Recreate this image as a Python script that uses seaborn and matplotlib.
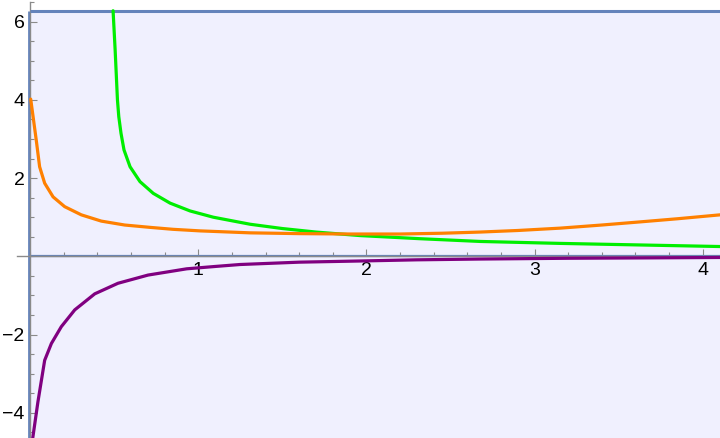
import numpy as np
import pandas as pd
import matplotlib
matplotlib.use("Agg")
import matplotlib.pyplot as plt
import seaborn as sns
from matplotlib.ticker import MultipleLocator, FixedLocator

sns.set_style("white")
plt.rcParams['font.family'] = ['Liberation Sans', 'DejaVu Sans']

# ---- data ----
green_x = [0.493, 0.505, 0.519, 0.527, 0.540, 0.558, 0.594, 0.653, 0.732, 0.832,
           0.951, 1.089, 1.308, 1.500, 1.700, 1.962, 2.319, 2.676, 3.152, 3.628, 4.103]
green_y = [6.28, 5.30, 4.00, 3.57, 3.15, 2.72, 2.29, 1.91, 1.61, 1.36,
           1.16, 1.00, 0.82, 0.71, 0.62, 0.53, 0.45, 0.38, 0.33, 0.29, 0.25]

orange_x = [0.003, 0.036, 0.056, 0.086, 0.136, 0.205, 0.304, 0.423, 0.562, 0.713,
            0.850, 1.011, 1.308, 1.600, 1.900, 2.200, 2.450, 2.676, 2.900, 3.152,
            3.400, 3.628, 3.850, 4.103]
orange_y = [4.02, 2.97, 2.29, 1.87, 1.52, 1.27, 1.06, 0.90, 0.80, 0.74,
            0.69, 0.65, 0.60, 0.58, 0.57, 0.57, 0.59, 0.62, 0.66, 0.72,
            0.80, 0.88, 0.96, 1.06]

purple_x = [0.015, 0.046, 0.086, 0.126, 0.185, 0.265, 0.384, 0.522, 0.701, 0.931,
            1.100, 1.248, 1.600, 1.962, 2.300, 2.676, 3.200, 3.700, 4.103]
purple_y = [-4.65, -3.72, -2.66, -2.23, -1.80, -1.37, -0.96, -0.69, -0.48, -0.32,
            -0.26, -0.21, -0.15, -0.12, -0.09, -0.07, -0.05, -0.04, -0.03]

top_level = 2 * np.pi
x_ticks = [1, 2, 3, 4]
y_ticks = [-4, -2, 2, 4, 6]

# ---- figure ----
fig = plt.figure(figsize=(7.2, 4.38), dpi=100)
ax = fig.add_axes([0, 0, 1, 1])
ax.set_facecolor('white')

x_lo, x_hi = -0.1797, 4.1035
y_lo, y_hi = -4.647, 6.555
ax.set_xlim(x_lo, x_hi)
ax.set_ylim(y_lo, y_hi)

lav = '#f0f0fe'
edge_blue = '#6483bb'
ax.fill_between([0, x_hi], y_lo, top_level, color=lav, lw=0, zorder=0)
ax.plot([0, x_hi], [top_level, top_level], color=edge_blue, lw=2.2, zorder=3,
        solid_capstyle='butt')
ax.plot([-0.006, -0.006], [y_lo, top_level], color=edge_blue, lw=2.0, zorder=1,
        solid_capstyle='butt')
ax.plot([0, x_hi], [0, 0], color=edge_blue, lw=1.6, zorder=1,
        solid_capstyle='butt')

df = pd.concat([
    pd.DataFrame({'x': green_x, 'y': green_y, 's': 'green'}),
    pd.DataFrame({'x': orange_x, 'y': orange_y, 's': 'orange'}),
    pd.DataFrame({'x': purple_x, 'y': purple_y, 's': 'purple'}),
])
palette = {'green': '#00ee00', 'orange': '#ff8000', 'purple': '#800080'}
sns.lineplot(data=df, x='x', y='y', hue='s', palette=palette, sort=False,
             estimator=None, lw=2.3, legend=False, ax=ax, zorder=4)

ax.set_xlabel('')
ax.set_ylabel('')

# axes through origin
for s in ['top', 'right']:
    ax.spines[s].set_visible(False)
ax.spines['left'].set_position(('data', 0))
ax.spines['bottom'].set_position(('data', 0))
ax.spines['left'].set_bounds(y_lo, 6.5)
ax.spines['bottom'].set_bounds(-0.078, x_hi)
for s in ['left', 'bottom']:
    ax.spines[s].set_color('#8a8a8a')
    ax.spines[s].set_linewidth(1.0)
    ax.spines[s].set_zorder(2)

ax.xaxis.set_major_locator(FixedLocator(x_ticks))
ax.yaxis.set_major_locator(FixedLocator(y_ticks))
ax.xaxis.set_minor_locator(MultipleLocator(0.2))
ax.yaxis.set_minor_locator(MultipleLocator(0.5))
ax.set_xticklabels([str(t) for t in x_ticks])
ax.set_yticklabels([str(t).replace('-', '\u2212') for t in y_ticks])
ax.tick_params(which='both', direction='in', color='#8a8a8a', width=0.8,
               labelsize=14, labelcolor='black')
ax.tick_params(which='major', length=5)
ax.tick_params(which='minor', length=3)
ax.tick_params(axis='x', which='both', pad=4, bottom=True)
ax.tick_params(axis='y', which='both', pad=4, left=True)

fig.savefig('out.png', dpi=100)
